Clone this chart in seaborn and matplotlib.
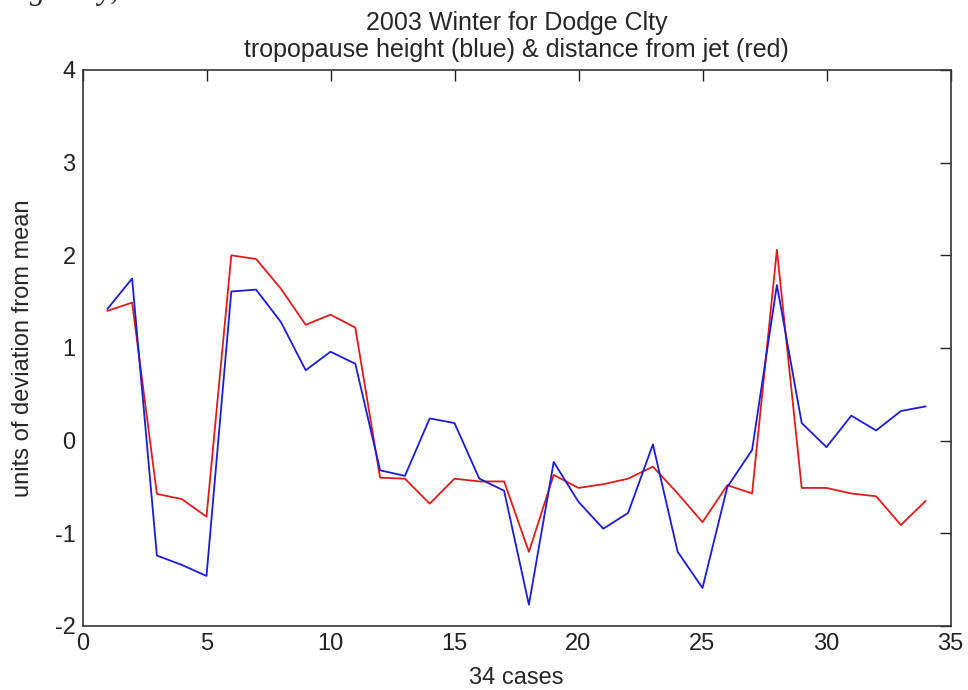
import numpy as np
import pandas as pd
import matplotlib
matplotlib.use("Agg")
import matplotlib.pyplot as plt
import seaborn as sns

cases = list(range(1, 35))
tropopause = [1.42, 1.75, -1.24, -1.34, -1.46, 1.61, 1.63, 1.28, 0.76, 0.96,
              0.83, -0.32, -0.38, 0.24, 0.19, -0.41, -0.54, -1.77, -0.23, -0.66,
              -0.95, -0.78, -0.04, -1.20, -1.59, -0.50, -0.10, 1.68, 0.19, -0.07,
              0.27, 0.11, 0.32, 0.37]
jet_distance = [1.40, 1.49, -0.575, -0.63, -0.82, 2.00, 1.96, 1.64, 1.25, 1.36,
                1.22, -0.40, -0.41, -0.68, -0.41, -0.44, -0.44, -1.20, -0.37, -0.51,
                -0.47, -0.41, -0.28, -0.57, -0.88, -0.48, -0.57, 2.06, -0.51, -0.51,
                -0.57, -0.60, -0.91, -0.65]
xticks = [0, 5, 10, 15, 20, 25, 30, 35]
yticks = [-2, -1, 0, 1, 2, 3, 4]

sns.set_style("white")
plt.rcParams['font.family'] = ['Liberation Sans', 'DejaVu Sans']
plt.rcParams['axes.unicode_minus'] = False

df = pd.DataFrame({
    "case": cases * 2,
    "value": tropopause + jet_distance,
    "series": ["tropopause"] * len(cases) + ["jet"] * len(cases),
})

fig = plt.figure(figsize=(9.68, 6.9), dpi=100)
ax = fig.add_axes([82.5 / 968, 64 / 690, 868 / 968, 556 / 690])

sns.lineplot(data=df, x="case", y="value", hue="series",
             palette={"tropopause": "#1c1cd0", "jet": "#dc1c1c"},
             hue_order=["jet", "tropopause"],
             linewidth=1.3, legend=False, ax=ax, sort=False)

ax.set_xlim(0, 35)
ax.set_ylim(-2, 4)
ax.set_xticks(xticks)
ax.set_yticks(yticks)
ax.tick_params(direction="in", length=8, width=1, top=True, right=True,
               labelsize=17, colors="#222222", pad=5)
for s in ax.spines.values():
    s.set_color("#333333")
    s.set_linewidth(1.2)

ax.set_xlabel("34 cases", fontsize=17, labelpad=9)
ax.set_ylabel("units of deviation from mean", fontsize=17, labelpad=15)
ax.set_title("2003 Winter for Dodge Clty\ntropopause height (blue) & distance from jet (red)",
             fontsize=18, linespacing=1.2, pad=9)

fig.text(30 / 968, 1 + 1 / 690, "gically,", family=["Liberation Serif", "DejaVu Serif"],
         style="italic", fontsize=22, va="baseline", ha="left")

fig.savefig("out.png", dpi=100)
